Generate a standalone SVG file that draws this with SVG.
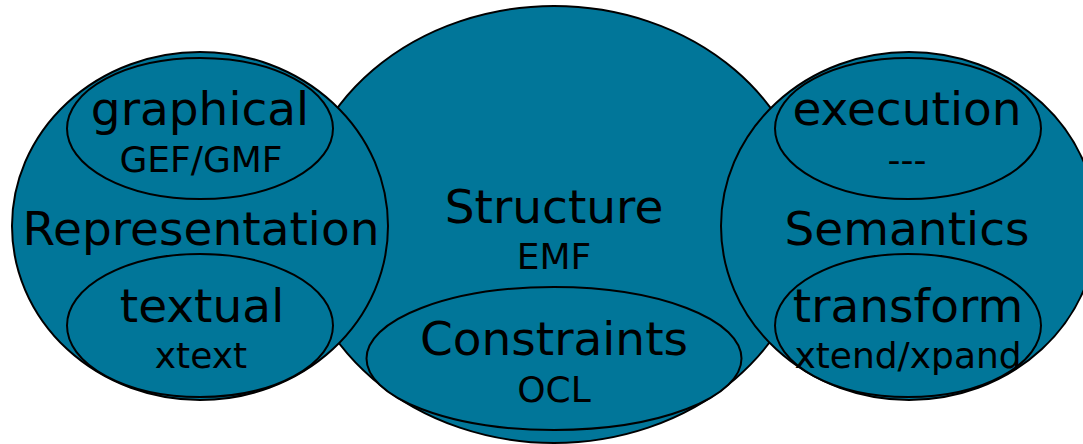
<svg xmlns="http://www.w3.org/2000/svg" width="1083" height="444" viewBox="0 0 1083 444">
<style>
.sh{fill:#017699;stroke:#000;stroke-width:2}
.big{font-family:"DejaVu Sans",Verdana,sans-serif;font-size:47px;fill:#000;text-anchor:middle}
.sm{font-family:"DejaVu Sans",Verdana,sans-serif;font-size:36px;fill:#000;text-anchor:middle}
</style>
<rect width="1083" height="444" fill="#fff"/>
<g id="structure">
<ellipse class="sh" cx="554" cy="224.5" rx="256" ry="218.5"/>
<text class="big" x="554" y="223">Structure</text>
<text class="sm" x="554" y="269">EMF</text>
</g>
<g id="constraints">
<ellipse class="sh" cx="554" cy="358.5" rx="187.5" ry="71.5"/>
<text class="big" x="554" y="355">Constraints</text>
<text class="sm" x="554" y="402">OCL</text>
</g>
<g id="representation">
<ellipse class="sh" cx="200" cy="226" rx="188" ry="174"/>
<text class="big" x="201" y="245">Representation</text>
</g>
<g id="graphical">
<ellipse class="sh" cx="200" cy="128.5" rx="133" ry="70.5"/>
<text class="big" x="200" y="125">graphical</text>
<text class="sm" x="201" y="172">GEF/GMF</text>
</g>
<g id="textual">
<ellipse class="sh" cx="200" cy="325.5" rx="133" ry="71.5"/>
<text class="big" x="202" y="322">textual</text>
<text class="sm" x="201" y="368">xtext</text>
</g>
<g id="semantics">
<ellipse class="sh" cx="909" cy="226" rx="188" ry="174"/>
<text class="big" x="907" y="245">Semantics</text>
</g>
<g id="execution">
<ellipse class="sh" cx="908" cy="128.5" rx="133" ry="70.5"/>
<text class="big" x="907" y="125">execution</text>
<text class="sm" x="907" y="172">---</text>
</g>
<g id="transform">
<ellipse class="sh" cx="908" cy="325.5" rx="133" ry="71.5"/>
<text class="big" x="908" y="322">transform</text>
<text class="sm" x="908" y="368">xtend/xpand</text>
</g>
<g id="connectors"></g>
</svg>
